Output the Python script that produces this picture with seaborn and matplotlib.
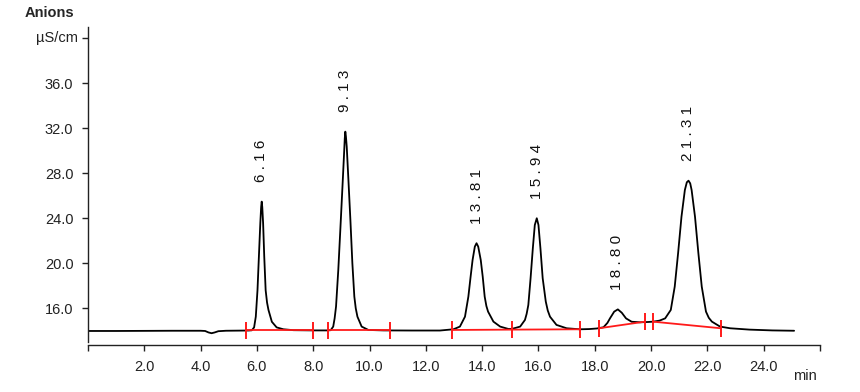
import matplotlib
matplotlib.use('Agg')
import matplotlib.pyplot as plt
import seaborn as sns

# chromatogram trace (min, uS/cm)
trace_time = [0.0, 1.0, 2.0, 3.0, 4.0, 4.16, 4.28, 4.39, 4.50, 4.63, 4.9, 5.3, 5.7,
              5.82, 5.90, 5.96, 6.02, 6.07, 6.12, 6.15, 6.17, 6.19, 6.22, 6.26, 6.31,
              6.36, 6.41, 6.53, 6.70, 6.94, 7.3, 8.0, 8.5,
              8.62, 8.71, 8.76, 8.81, 8.89, 8.98, 9.05, 9.10, 9.12, 9.14, 9.16, 9.19, 9.25,
              9.32, 9.39, 9.46, 9.51, 9.57, 9.72, 9.96, 10.5, 11.5, 12.5,
              12.98, 13.21, 13.39, 13.51, 13.59, 13.66, 13.74, 13.80, 13.86, 13.95,
              14.02, 14.09, 14.15, 14.21, 14.40, 14.64, 14.93,
              15.05, 15.35, 15.52, 15.58, 15.64, 15.72, 15.80, 15.87, 15.94, 16.00, 16.07,
              16.15, 16.26, 16.33, 16.41, 16.64, 17.00, 17.47, 17.8, 18.07,
              18.31, 18.45, 18.54, 18.69, 18.82, 18.96, 19.11, 19.31, 19.61, 19.90,
              20.08, 20.30, 20.50, 20.70, 20.84, 20.96, 21.08, 21.20, 21.27, 21.33,
              21.39, 21.44, 21.56, 21.68, 21.80, 21.95, 22.05, 22.16, 22.45, 22.81, 23.5,
              24.3, 25.08]
trace_signal = [13.98, 13.98, 13.99, 14.00, 14.00, 13.98, 13.85, 13.78, 13.85, 13.96, 14.00, 14.01, 14.02,
                14.04, 14.30, 15.25, 17.60, 20.60, 23.55, 25.00, 25.48, 25.00, 23.55, 20.60, 17.60,
                16.50, 15.85, 14.80, 14.30, 14.13, 14.05, 14.03, 14.03,
                14.05, 14.37, 15.10, 16.15, 19.40, 23.85, 27.40, 30.00, 31.10, 31.70, 31.30, 30.36, 27.40,
                23.85, 20.00, 17.03, 16.00, 15.25, 14.37, 14.07, 14.03, 14.02, 14.02,
                14.13, 14.37, 15.25, 17.03, 18.81, 20.29, 21.48, 21.78, 21.48, 20.29,
                18.81, 17.03, 16.20, 15.70, 14.81, 14.37, 14.16,
                14.16, 14.37, 14.96, 15.50, 16.29, 18.67, 21.33, 23.40, 24.00, 23.40, 21.33,
                18.67, 16.59, 15.80, 15.25, 14.52, 14.22, 14.13, 14.15, 14.20,
                14.31, 14.70, 15.10, 15.70, 15.90, 15.60, 15.10, 14.80, 14.75, 14.78,
                14.81, 14.90, 15.10, 15.85, 17.92, 20.90, 24.14, 26.51, 27.20, 27.34,
                27.10, 26.51, 24.14, 20.90, 17.92, 15.70, 15.15, 14.81, 14.37, 14.22, 14.10,
                14.03, 14.00]

# labelled peaks
peak_times = [6.16, 9.13, 13.81, 15.94, 18.80, 21.31]
peak_heights = [25.48, 31.70, 21.78, 24.00, 15.90, 27.34]

# integration baselines (red) with their start/end markers
seg_times = [[5.61, 8.00], [8.54, 10.73], [12.92, 15.05, 17.48], [18.15, 19.79], [20.06, 22.48]]
seg_levels = [[14.03, 14.03], [14.03, 14.03], [14.07, 14.10, 14.13], [14.22, 14.81], [14.81, 14.22]]

x_ticks = [0, 2, 4, 6, 8, 10, 12, 14, 16, 18, 20, 22, 24, 26]
x_labels = ['', '2.0', '4.0', '6.0', '8.0', '10.0', '12.0', '14.0', '16.0', '18.0', '20.0', '22.0', '24.0', '']
y_ticks = [16, 20, 24, 28, 32, 36, 40]
y_labels = ['16.0', '20.0', '24.0', '28.0', '32.0', '36.0', '']


def viz_chrom(outpath='out.png'):
    sns.set_style('ticks')
    plt.rcParams['font.family'] = ['Liberation Sans', 'DejaVu Sans']

    fig = plt.figure(figsize=(8.6, 3.92), dpi=100)
    ax = fig.add_axes([88 / 860, 1 - 342 / 392, 732 / 860, 315 / 392])

    sns.lineplot(x=trace_time, y=trace_signal, ax=ax, color='black', lw=1.3,
                 sort=False, estimator=None)

    for ts, vs in zip(seg_times, seg_levels):
        sns.lineplot(x=ts, y=vs, ax=ax, color='#ff1a1a', lw=1.3, sort=False, estimator=None)
        ax.vlines(ts, [v - 0.78 for v in vs], [v + 0.78 for v in vs], color='#ff1a1a', lw=1.4)

    for t, h in zip(peak_times, peak_heights):
        ax.annotate(' '.join('%.2f' % t), xy=(t, h), xytext=(0, 14), textcoords='offset points',
                    rotation=90, ha='center', va='bottom', fontsize=11, color='#111111')

    ax.set_xlim(0, 26)
    ax.set_ylim(13.0, 41.0)
    ax.set_xticks(x_ticks)
    ax.set_xticklabels(x_labels)
    ax.set_yticks(y_ticks)
    ax.set_yticklabels(y_labels)
    ax.set_xlabel('')
    ax.set_ylabel('')
    ax.tick_params(axis='both', length=4.5, width=1.0, labelsize=10.5, colors='#222222', pad=6)

    for side in ['top', 'right']:
        ax.spines[side].set_visible(False)
    for side in ['left', 'bottom']:
        ax.spines[side].set_linewidth(1.0)
        ax.spines[side].set_color('#222222')
    ax.spines['bottom'].set_position(('outward', 2.2))

    ax.annotate('\u00b5S/cm', xy=(0, 40), xycoords=('axes fraction', 'data'), xytext=(-7.5, 0),
                textcoords='offset points', ha='right', va='center', fontsize=10.5, color='#222222')
    fig.text(25 / 860, 1 - 13 / 392, 'Anions', fontsize=10.5, fontweight='bold', va='center')
    fig.text(793 / 860, 1 - 376 / 392, 'min', fontsize=10.5, va='center', color='#222222')

    fig.savefig(outpath, dpi=100)
    plt.close()


if __name__ == '__main__':
    viz_chrom()
